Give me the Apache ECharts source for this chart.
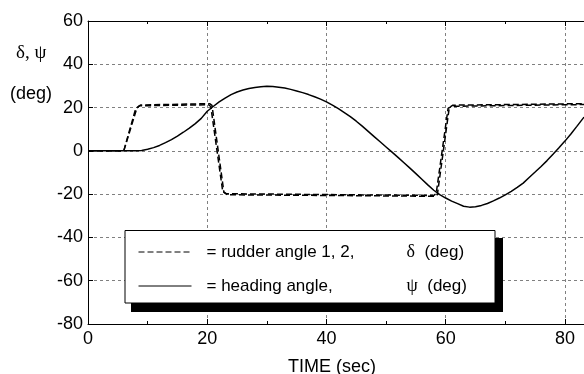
<!DOCTYPE html>
<html>
<head>
<meta charset="utf-8">
<script src="https://cdn.jsdelivr.net/npm/echarts@6/dist/echarts.min.js"></script>
<style>
  html, body { margin: 0; padding: 0; background: #fff; }
  #chart { width: 584px; height: 374px; }
</style>
</head>
<body>
<div id="chart"></div>
<script>
// heading angle psi (deg) vs time (sec)
const headingTime = [0, 2, 4, 6, 8, 9, 10, 11, 12, 13, 14, 15, 16, 17, 18, 19, 20, 21, 22, 23, 24, 25, 26, 27, 28, 29, 30, 31, 32, 33, 34, 35, 36, 37, 38, 39, 40, 41, 42, 43, 44, 45, 46, 47, 48, 49, 50, 51, 52, 53, 54, 55, 56, 57, 58, 59, 60, 61, 62, 63, 64, 65, 66, 67, 68, 69, 70, 71, 72, 73, 74, 75, 76, 77, 78, 79, 80, 81, 82, 83.2];
const heading = [0, 0, 0, 0, 0, 0.2, 0.7, 1.5, 2.5, 3.8, 5.2, 6.8, 8.6, 10.5, 12.6, 15.0, 18.3, 20.5, 22.6, 24.4, 26.0, 27.2, 28.1, 28.8, 29.3, 29.6, 29.8, 29.7, 29.4, 29.0, 28.4, 27.7, 26.9, 26.0, 25.0, 23.9, 22.6, 21.1, 19.5, 17.7, 15.8, 13.7, 11.4, 9.0, 6.6, 4.2, 1.8, -0.6, -3.0, -5.5, -8.0, -10.5, -13.1, -15.7, -18.2, -20.2, -21.8, -23.2, -24.4, -25.6, -26.0, -25.8, -25.2, -24.3, -23.1, -21.8, -20.3, -18.7, -16.9, -14.9, -12.3, -9.8, -7.2, -4.5, -1.6, 1.4, 4.5, 7.8, 11.3, 15.6];

// rudder angles 1 and 2, delta (deg)
const rudder1Time = [0, 6.0, 8.0, 8.6, 20.2, 20.6, 22.6, 23.2, 40, 58.0, 58.4, 60.4, 61.0, 83.2];
const rudder1 = [0, 0, 19.5, 20.8, 21.3, 20.5, -18.8, -19.8, -20.2, -20.6, -19.8, 19.6, 20.6, 21.4];
const rudder2Time = [0, 6.0, 8.2, 8.8, 20.4, 20.8, 22.8, 23.4, 40, 58.2, 58.6, 60.6, 61.2, 83.2];
const rudder2 = [0, 0, 19.8, 21.2, 21.8, 21.0, -19.2, -20.3, -20.6, -21.0, -20.2, 20.0, 21.1, 21.8];

const rudderName = 'rudder angle 1, 2';
const headingName = 'heading angle';

const zip = (xs, ys) => xs.map((x, i) => [x, ys[i]]);

const chart = echarts.init(document.getElementById('chart'));

const FONT = "'Liberation Sans', Arial, sans-serif";
const SERIF = "'Liberation Serif', 'Times New Roman', serif";

const xCommon = {
  type: 'value',
  min: 0,
  max: 83.2,
  interval: 20,
  splitNumber: 2,
  axisLine: { show: true, onZero: false, lineStyle: { color: '#000', width: 1 } },
  axisTick: { show: true, inside: true, length: 5, lineStyle: { color: '#000' } },
  minorTick: { show: true, splitNumber: 2, length: 3, lineStyle: { color: '#000' } },
  minorSplitLine: { show: false },
};

chart.setOption({
  animation: false,
  backgroundColor: '#fff',
  grid: { left: 88, right: 0, top: 21, bottom: 50, containLabel: false, outerBoundsMode: 'none' },
  xAxis: [
    Object.assign({}, xCommon, {
      position: 'bottom',
      name: 'TIME (sec)',
      nameLocation: 'middle',
      nameGap: 34,
      nameTextStyle: { fontFamily: FONT, fontSize: 18, color: '#000', padding: [0, 8, 0, 0] },
      axisLabel: {
        fontFamily: FONT, fontSize: 18, color: '#000', margin: 6,
        showMaxLabel: false,
      },
      splitLine: { show: true, lineStyle: { color: '#808080', type: [3, 3], width: 1 } },
    }),
    Object.assign({}, xCommon, {
      position: 'top',
      axisLabel: { show: false },
      splitLine: { show: false },
    }),
  ],
  yAxis: {
    type: 'value',
    min: -80,
    max: 60,
    interval: 20,
    axisLine: { show: true, onZero: false, lineStyle: { color: '#000', width: 1 } },
    axisTick: { show: true, inside: true, length: 5, lineStyle: { color: '#000' } },
    axisLabel: { fontFamily: FONT, fontSize: 18, color: '#000', margin: 5 },
    splitLine: { show: true, lineStyle: { color: '#808080', type: [3, 3], width: 1 } },
  },
  legend: {
    orient: 'vertical',
    left: 138,
    top: 243,
    padding: 0,
    itemGap: 16,
    itemWidth: 53,
    itemHeight: 20,
    z: 60,
    data: [rudderName, headingName],
    itemStyle: { opacity: 0 },
    lineStyle: { width: 1 },
    formatter: (name) => name === rudderName
      ? '{a|= rudder angle 1, 2,}{b|δ}{c|  (deg)}'
      : '{a|= heading angle,}{b|ψ}{c|  (deg)}',
    textStyle: {
      color: '#000',
      rich: {
        a: { fontFamily: FONT, fontSize: 17, color: '#000', width: 200, padding: [0, 0, 0, 10], lineHeight: 20 },
        b: { fontFamily: SERIF, fontSize: 18, color: '#000', lineHeight: 20 },
        c: { fontFamily: FONT, fontSize: 17, color: '#000', lineHeight: 20 },
      },
    },
  },
  graphic: [
    { type: 'text', left: 16, top: 44, z: 10,
      style: { text: 'δ, ψ', font: "19px " + SERIF, fill: '#000' } },
    { type: 'text', left: 10, top: 85, z: 10,
      style: { text: '(deg)', font: "18px " + FONT, fill: '#000' } },
    { type: 'rect', z: 50, shape: { x: 131, y: 238, width: 372, height: 74 },
      style: { fill: '#000' } },
    { type: 'rect', z: 51, shape: { x: 125, y: 230.5, width: 370, height: 72.5 },
      style: { fill: '#fff', stroke: '#000', lineWidth: 1 } },
  ],
  series: [
    {
      name: rudderName, type: 'line', symbol: 'none', z: 3,
      data: zip(rudder1Time, rudder1),
      lineStyle: { color: '#000', width: 1.5, type: [6, 3] },
      itemStyle: { color: '#000' },
    },
    {
      name: rudderName, type: 'line', symbol: 'none', z: 3,
      data: zip(rudder2Time, rudder2),
      lineStyle: { color: '#000', width: 1.5, type: [6, 3] },
      itemStyle: { color: '#000' },
    },
    {
      name: headingName, type: 'line', symbol: 'none', z: 3,
      data: zip(headingTime, heading),
      lineStyle: { color: '#000', width: 1.5, type: 'solid' },
      itemStyle: { color: '#000' },
    },
  ],
});
</script>
</body>
</html>
